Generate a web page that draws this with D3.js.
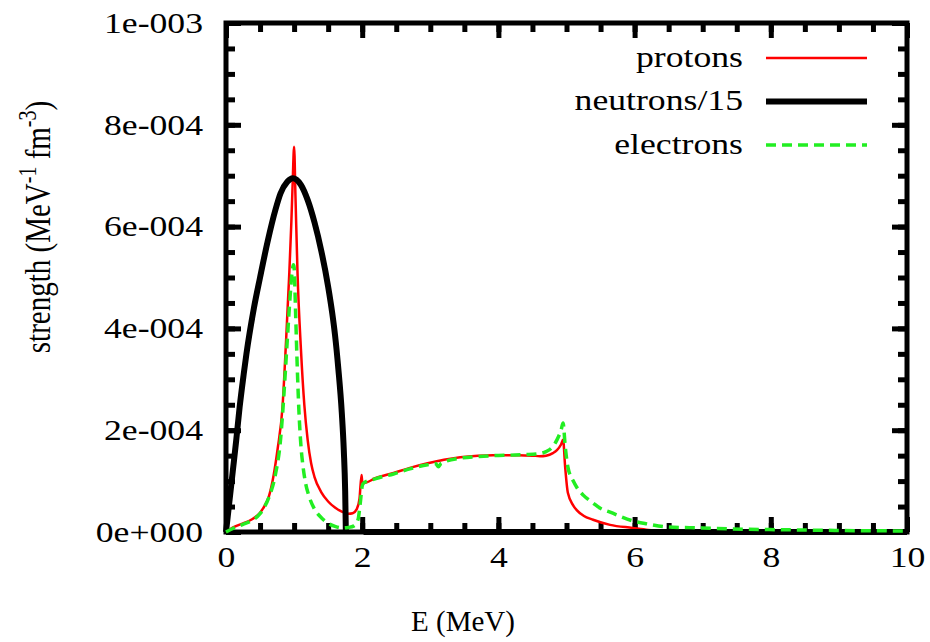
<!DOCTYPE html>
<html>
<head>
<meta charset="utf-8">
<script src="https://cdn.jsdelivr.net/npm/d3@7"></script>
<style>
  body { margin: 0; background: #fff; }
  text { font-family: "Liberation Serif", "Times New Roman", serif; fill: #000; }
</style>
</head>
<body>
<div id="chart"></div>
<script>
// values are in units of 1e-4 MeV^-1 fm^-3
const protonE = [0, 0.12, 0.25, 0.37, 0.5, 0.56, 0.63, 0.7, 0.76, 0.83, 0.88, 0.93, 0.96, 0.98, 1.0, 1.02, 1.05, 1.1, 1.15, 1.2,
  1.25, 1.3, 1.4, 1.5, 1.6, 1.7, 1.8, 1.86, 1.92, 1.96, 1.99, 2.0, 2.02, 2.2, 2.46, 2.7, 2.96, 3.2, 3.44, 3.7, 3.92,
  4.3, 4.5, 4.61, 4.7, 4.8, 4.86, 4.92, 4.95, 4.98, 5.02, 5.1, 5.15, 5.25, 5.39, 5.64, 5.97, 6.2, 6.5, 7.0, 10];
const protonV = [0, 0.1, 0.17, 0.24, 0.38, 0.5, 0.7, 1.12, 1.65, 2.46, 3.7, 5.1, 6.1, 6.9, 7.57, 6.6, 5.1, 3.6, 2.5, 1.8,
  1.35, 1.08, 0.78, 0.6, 0.48, 0.4, 0.36, 0.37, 0.45, 0.65, 1.12, 1.0, 0.96, 1.06, 1.16, 1.26, 1.35, 1.42, 1.47, 1.5, 1.51,
  1.51, 1.5, 1.49, 1.5, 1.55, 1.61, 1.72, 1.81, 1.28, 0.77, 0.52, 0.43, 0.32, 0.24, 0.14, 0.08, 0.04, 0.01, 0, 0];

const neutronE = [0, 0.05, 0.1, 0.15, 0.2, 0.26, 0.3, 0.41, 0.5, 0.61, 0.73, 0.8, 0.9, 0.98, 1.1, 1.2, 1.3, 1.4, 1.5, 1.56,
  1.6, 1.65, 1.7, 1.73, 1.75, 1.76, 1.9, 2.02, 10];
const neutronV = [0, 0.6, 1.2, 1.8, 2.45, 3.1, 3.5, 4.4, 5.0, 5.7, 6.35, 6.65, 6.88, 6.95, 6.82, 6.52, 6.08, 5.52, 4.82, 4.3,
  3.88, 3.2, 2.35, 1.6, 0.8, 0, null, 0, 0];

const electronE = [0, 0.12, 0.25, 0.37, 0.5, 0.56, 0.63, 0.73, 0.8, 0.83, 0.9, 0.94, 0.97, 0.99, 1.0, 1.02, 1.04, 1.07, 1.1, 1.13,
  1.17, 1.22, 1.3, 1.4, 1.5, 1.6, 1.7, 1.8, 1.88, 1.94, 1.97, 2.0, 2.02, 2.2, 2.46, 2.7, 2.96, 3.08, 3.12, 3.16, 3.44,
  3.7, 3.92, 4.17, 4.4, 4.6, 4.7, 4.8, 4.86, 4.92, 4.95, 4.98, 5.02, 5.1, 5.15, 5.25, 5.39, 5.49, 5.64, 5.97, 6.18,
  6.47, 7.0, 7.44, 8.42, 9.0, 10];
const electronV = [0, 0.08, 0.15, 0.22, 0.36, 0.48, 0.68, 1.16, 1.8, 2.3, 3.77, 4.6, 5.1, 5.25, 5.2, 4.4, 3.5, 2.4, 1.7, 1.3,
  0.95, 0.7, 0.45, 0.28, 0.17, 0.11, 0.08, 0.09, 0.12, 0.25, 0.55, 0.9, 0.96, 1.05, 1.14, 1.24, 1.32, 1.34, 1.28, 1.35, 1.45,
  1.48, 1.5, 1.51, 1.52, 1.54, 1.58, 1.68, 1.81, 2.0, 2.14, 1.7, 1.28, 1.0, 0.88, 0.72, 0.57, 0.47, 0.39, 0.22, 0.16,
  0.1, 0.08, 0.06, 0.04, 0.03, 0.02];

const xTicks = [0, 2, 4, 6, 8, 10];
const xTickLabels = ["0", "2", "4", "6", "8", "10"];
const yTicks = [0, 2e-4, 4e-4, 6e-4, 8e-4, 1e-3];
const yTickLabels = ["0e+000", "2e-004", "4e-004", "6e-004", "8e-004", "1e-003"];
const seriesNames = ["protons", "neutrons/15", "electrons"];

const width = 930, height = 642;
const margin = { left: 226, right: 907, top: 23, bottom: 532 };
const fontSize = 29;
const stretch = 1.23;   // tick and key text in the picture is wider than it is tall

const x = d3.scaleLinear().domain([0, 10]).range([margin.left, margin.right]);
const y = d3.scaleLinear().domain([0, 1e-3]).range([margin.bottom, margin.top]);

const svg = d3.select("#chart").append("svg")
  .attr("width", width)
  .attr("height", height)
  .style("background", "#fff");

const xMinor = d3.range(0, 10.001, 0.5);
const yMinor = d3.range(0, 1.0001e-3, 5e-5);

function styleAxis(g) {
  g.select(".domain").remove();
  g.selectAll(".tick line").attr("stroke", "#000").attr("stroke-width", 5);
}

// minor ticks on all four sides
svg.append("g").attr("transform", `translate(0,${margin.bottom})`)
  .call(d3.axisBottom(x).tickValues(xMinor).tickSize(-9).tickFormat("")).call(styleAxis);
svg.append("g").attr("transform", `translate(0,${margin.top})`)
  .call(d3.axisTop(x).tickValues(xMinor).tickSize(-9).tickFormat("")).call(styleAxis);
svg.append("g").attr("transform", `translate(${margin.left},0)`)
  .call(d3.axisLeft(y).tickValues(yMinor).tickSize(-9).tickFormat("")).call(styleAxis);
svg.append("g").attr("transform", `translate(${margin.right},0)`)
  .call(d3.axisRight(y).tickValues(yMinor).tickSize(-9).tickFormat("")).call(styleAxis);

// major ticks
svg.append("g").attr("transform", `translate(0,${margin.bottom})`)
  .call(d3.axisBottom(x).tickValues(xTicks).tickSize(-15).tickPadding(14)
    .tickFormat((d, i) => xTickLabels[i]))
  .call(styleAxis);
svg.append("g").attr("transform", `translate(0,${margin.top})`)
  .call(d3.axisTop(x).tickValues(xTicks).tickSize(-15).tickFormat("")).call(styleAxis);
svg.append("g").attr("transform", `translate(${margin.left},0)`)
  .call(d3.axisLeft(y).tickValues(yTicks).tickSize(-15).tickPadding(23 / stretch)
    .tickFormat((d, i) => yTickLabels[i]))
  .call(styleAxis);
svg.append("g").attr("transform", `translate(${margin.right},0)`)
  .call(d3.axisRight(y).tickValues(yTicks).tickSize(-15).tickFormat("")).call(styleAxis);

svg.selectAll(".tick text")
  .attr("font-size", fontSize)
  .attr("fill", "#000")
  .attr("transform", `scale(${stretch},1)`);
svg.selectAll("g").attr("font-family", null);

// frame
svg.append("rect")
  .attr("x", margin.left).attr("y", margin.top)
  .attr("width", margin.right - margin.left).attr("height", margin.bottom - margin.top)
  .attr("fill", "none").attr("stroke", "#000").attr("stroke-width", 5);

const line = d3.line()
  .defined(d => d[1] != null)
  .x(d => x(d[0]))
  .y(d => y(d[1] * 1e-4))
  .curve(d3.curveMonotoneX);

const series = [
  { name: seriesNames[0], e: protonE, v: protonV, color: "#ff0000", w: 2.5, dash: null },
  { name: seriesNames[1], e: neutronE, v: neutronV, color: "#000000", w: 6, dash: null },
  { name: seriesNames[2], e: electronE, v: electronV, color: "#22ee22", w: 3.5, dash: "10,6" }
];

const plot = svg.append("g");
series.forEach(s => {
  plot.append("path")
    .datum(s.e.map((e, i) => [e, s.v[i]]))
    .attr("d", line)
    .attr("fill", "none")
    .attr("stroke", s.color)
    .attr("stroke-width", s.w)
    .attr("stroke-dasharray", s.dash)
    .attr("stroke-linejoin", "round");
});

// legend
const legend = svg.append("g");
series.forEach((s, i) => {
  const ly = 58 + i * 43.5;
  legend.append("g")
    .attr("transform", `translate(743,${ly}) scale(${stretch},1)`)
    .append("text")
    .attr("text-anchor", "end")
    .attr("dy", "0.3em")
    .attr("font-size", fontSize)
    .text(s.name);
  legend.append("line")
    .attr("x1", 766).attr("x2", 867)
    .attr("y1", ly).attr("y2", ly)
    .attr("stroke", s.color)
    .attr("stroke-width", s.w)
    .attr("stroke-dasharray", s.dash);
});

// axis titles
svg.append("text")
  .attr("x", 463).attr("y", 631)
  .attr("text-anchor", "middle")
  .attr("font-size", fontSize)
  .text("E (MeV)");

const yTitle = svg.append("g")
  .attr("transform", `translate(50,227) scale(${stretch},1) rotate(-90)`)
  .append("text")
  .attr("text-anchor", "middle")
  .attr("font-size", fontSize);
yTitle.append("tspan").text("strength (MeV");
yTitle.append("tspan").attr("font-size", 20).attr("dy", -11).text("-1");
yTitle.append("tspan").attr("dy", 11).text(" fm");
yTitle.append("tspan").attr("font-size", 20).attr("dy", -11).text("-3");
yTitle.append("tspan").attr("dy", 11).text(")");
</script>
</body>
</html>
